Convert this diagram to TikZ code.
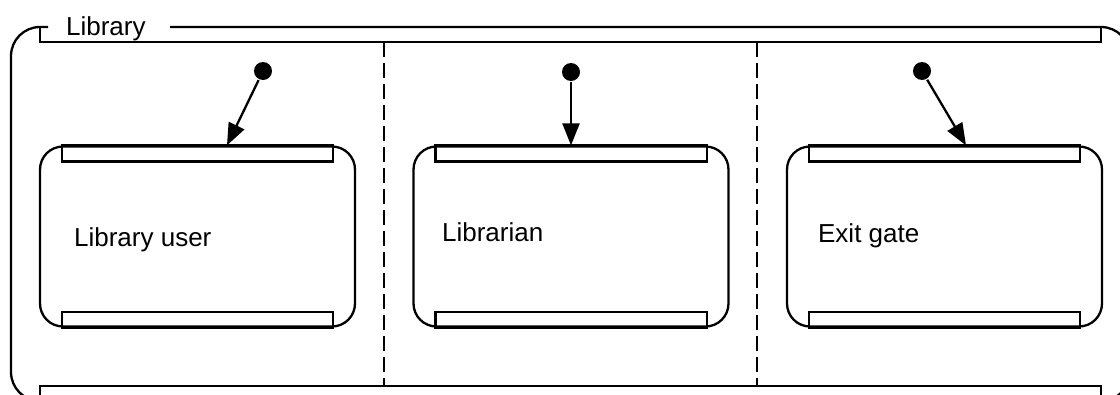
\documentclass[tikz,border=0pt]{standalone}
\usepackage{fontspec}
\setmainfont{Liberation Sans}
\usetikzlibrary{arrows.meta,positioning}

\tikzset{
  state/.style={draw,rounded corners=23pt,minimum width=315pt,minimum height=180pt,inner sep=0pt},
  statename/.style={anchor=base west,inner sep=0pt,font=\fontsize{26}{30}\selectfont},
  init/.style={circle,fill,inner sep=0pt,minimum size=18pt},
  trans/.style={-{Triangle[length=22pt,width=17pt]}},
  region/.style={dash pattern=on 15pt off 6pt},
}
% the two flat bars at the top and bottom of a state
\newcommand{\statebars}[1]{%
  \draw ([xshift=23pt]#1.north west) rectangle ([xshift=-23pt,yshift=-16pt]#1.north east);
  \draw ([xshift=23pt]#1.south west) rectangle ([xshift=-23pt,yshift=16pt]#1.south east);}

\begin{document}
\begin{tikzpicture}[x=1pt,y=-1pt,line width=2.3pt]
\useasboundingbox (0,0) rectangle (1120,394);
\clip (0,0) rectangle (1120,394);
% outer frame with its bars
\draw[rounded corners=29pt] (48,27) -- (11,27) -- (11,401) -- (1130,401) -- (1130,27) -- (170,27);
\draw (40,27) -- (40,42) -- (1101,42) -- (1101,27);
\draw (40,401) -- (40,386) -- (1101,386) -- (1101,401);
\node[statename] (title) at (65,35) {Library};
% regions
\draw[region] (384,42) -- (384,386);
\draw[region] (757,42) -- (757,386);
% states
\node[state] (user) at (197.5,236.5) {};
\node[state] (librarian) at (571,236.5) {};
\node[state] (gate) at (944.5,236.5) {};
\statebars{user}\statebars{librarian}\statebars{gate}
\node[statename] at (73,246) {Library user};
\node[statename] at (441,241) {Librarian};
\node[statename] at (817,242) {Exit gate};
% initial states
\node[init] (i1) at (263,71) {};
\node[init] (i2) at (571,72) {};
\node[init] (i3) at (922,71) {};
\draw[trans] (i1) -- ([xshift=29.5pt]user.north);
\draw[trans] (i2) -- (librarian.north);
\draw[trans] (i3) -- ([xshift=21.5pt]gate.north);
\end{tikzpicture}
\end{document}
